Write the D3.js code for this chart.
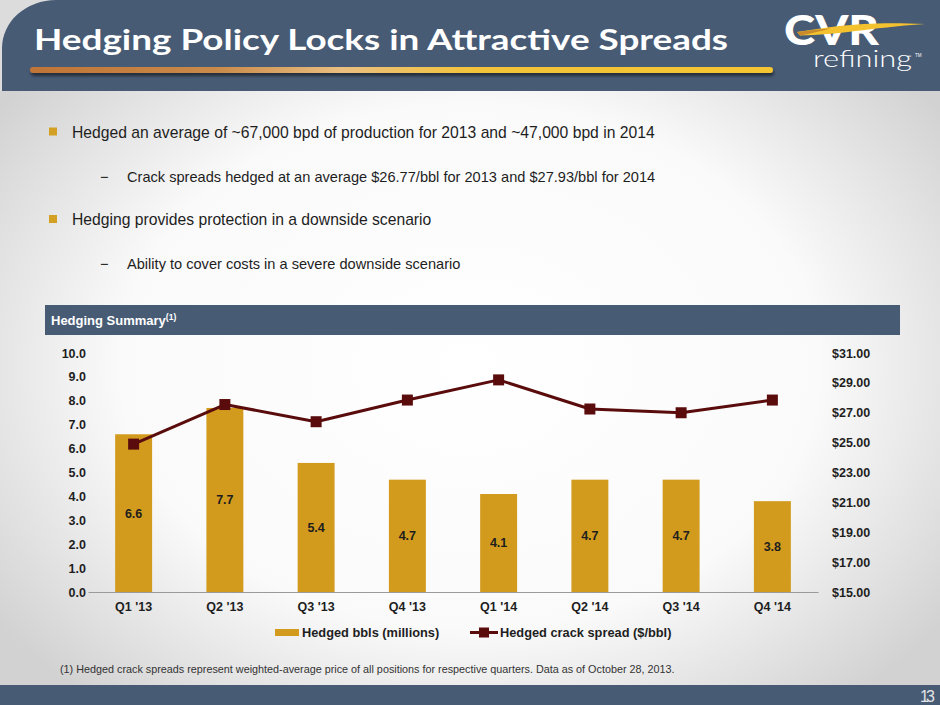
<!DOCTYPE html>
<html>
<head>
<meta charset="utf-8">
<script src="https://cdn.jsdelivr.net/npm/d3@7"></script>
<style>
  html, body { margin: 0; padding: 0; background: #fff; }
  svg { display: block; font-family: "Liberation Sans", Arial, sans-serif; }
</style>
</head>
<body>
<svg id="chart" width="940" height="705"></svg>
<script>
// ---- data ----
const categories = ["Q1 '13", "Q2 '13", "Q3 '13", "Q4 '13", "Q1 '14", "Q2 '14", "Q3 '14", "Q4 '14"];
const hedgedBbls = [6.6, 7.7, 5.4, 4.7, 4.1, 4.7, 4.7, 3.8];
const crackSpread = [24.9, 27.55, 26.4, 27.85, 29.2, 27.25, 27.0, 27.85];
const leftTicks = [0, 1, 2, 3, 4, 5, 6, 7, 8, 9, 10];
const rightTicks = [15, 17, 19, 21, 23, 25, 27, 29, 31];
const seriesNames = ["Hedged bbls (millions)", "Hedged crack spread ($/bbl)"];
const titleText = "Hedging Policy Locks in Attractive Spreads";
const bullets = [
  {level: 1, text: "Hedged an average of ~67,000 bpd of production for 2013 and ~47,000 bpd in 2014"},
  {level: 2, text: "Crack spreads hedged at an average $26.77/bbl for 2013 and $27.93/bbl for 2014"},
  {level: 1, text: "Hedging provides protection in a downside scenario"},
  {level: 2, text: "Ability to cover costs in a severe downside scenario"}
];
const footnote = "(1) Hedged crack spreads represent weighted-average price of all positions for respective quarters.  Data as of October 28, 2013.";

// ---- styles ----
const BAR = "#D39B1E", LINE = "#5A0C0C", SLATE = "#475B75", TXT = "#1e1e1e";

const svg = d3.select("#chart");
const defs = svg.append("defs");

const bg = defs.append("radialGradient").attr("id", "bg")
  .attr("cx", "50%").attr("cy", "52%").attr("r", "62%");
bg.append("stop").attr("offset", "0").attr("stop-color", "#ffffff");
bg.append("stop").attr("offset", "0.6").attr("stop-color", "#fafafa");
bg.append("stop").attr("offset", "1").attr("stop-color", "#d2d2d2");

const ul = defs.append("linearGradient").attr("id", "ul").attr("x1", "0").attr("x2", "1");
ul.append("stop").attr("offset", "0").attr("stop-color", "#bf7436");
ul.append("stop").attr("offset", "0.25").attr("stop-color", "#c98a4a");
ul.append("stop").attr("offset", "0.42").attr("stop-color", "#eabf80");
ul.append("stop").attr("offset", "0.6").attr("stop-color", "#f3c43a");
ul.append("stop").attr("offset", "1").attr("stop-color", "#f5c531");

const sh = defs.append("filter").attr("id", "sh").attr("x", "-5%").attr("y", "-50%").attr("width", "110%").attr("height", "250%");
sh.append("feGaussianBlur").attr("in", "SourceAlpha").attr("stdDeviation", 1.5);
sh.append("feOffset").attr("dx", 1).attr("dy", 3).attr("result", "o");
sh.append("feComponentTransfer").append("feFuncA").attr("type", "linear").attr("slope", 0.5);
const fm = sh.append("feMerge"); fm.append("feMergeNode"); fm.append("feMergeNode").attr("in", "SourceGraphic");

svg.append("rect").attr("width", 940).attr("height", 705).attr("fill", "url(#bg)");

// ---- header ----
svg.append("rect").attr("x", 0).attr("y", 0).attr("width", 940).attr("height", 91).attr("fill", SLATE);
svg.append("path").attr("d", "M0,0 H56 A54 48 0 0 0 2,48 V91 H0 Z").attr("fill", "#dcdcdc");
svg.append("rect").attr("x", 30).attr("y", 67).attr("width", 743).attr("height", 6).attr("rx", 3)
  .attr("fill", "url(#ul)").attr("filter", "url(#sh)");
svg.append("text").attr("x", 34).attr("y", 50)
  .attr("font-family", "Lato, 'Open Sans', sans-serif").attr("font-weight", 700).attr("font-size", 29)
  .attr("fill", "#ffffff").attr("textLength", 694).attr("lengthAdjust", "spacingAndGlyphs")
  .text(titleText);

// logo
const logo = svg.append("g");
logo.append("text").attr("x", 784).attr("y", 45).attr("font-family", "Lato, sans-serif").attr("font-weight", 900).attr("font-size", 41)
  .attr("fill", "#ffffff").attr("textLength", 95).attr("lengthAdjust", "spacingAndGlyphs").text("CVR");
logo.append("path").attr("d", "M797,32 C830,27 862,21 925,24 C868,28 838,35 800,35.5 Z").attr("fill", "#f3c22e");
logo.append("path").attr("d", "M797,32 C808,30.5 818,29.5 830,28.5 C819,31.5 809,34 800,35.5 Z").attr("fill", "#c98a2c");
logo.append("text").attr("x", 813).attr("y", 67).attr("font-family", "Lato, sans-serif").attr("font-weight", 300).attr("font-size", 23)
  .attr("fill", "#ffffff").attr("textLength", 99).attr("lengthAdjust", "spacingAndGlyphs").text("refining");
logo.append("text").attr("x", 915).attr("y", 57).attr("font-size", 4.5).attr("fill", "#ffffff").text("TM");

// ---- bullets ----
const by = [137.5, 181.5, 225, 269];
bullets.forEach((b, i) => {
  if (b.level === 1) {
    svg.append("rect").attr("x", 49).attr("y", by[i] - 10).attr("width", 8).attr("height", 8).attr("fill", "#D4A024");
    svg.append("text").attr("x", 72).attr("y", by[i]).attr("font-size", 15.7).attr("fill", TXT).text(b.text);
  } else {
    svg.append("text").attr("x", 100).attr("y", by[i]).attr("font-size", 14.6).attr("fill", TXT).text("\u2212");
    svg.append("text").attr("x", 127).attr("y", by[i]).attr("font-size", 14.6).attr("fill", TXT).text(b.text);
  }
});

// ---- summary band ----
svg.append("rect").attr("x", 45).attr("y", 305).attr("width", 855).attr("height", 30).attr("fill", SLATE);
const st = svg.append("text").attr("x", 51).attr("y", 325).attr("font-size", 13).attr("font-weight", 700).attr("fill", "#fff");
st.append("tspan").text("Hedging Summary");
st.append("tspan").attr("font-size", 8.5).attr("dy", -5).text("(1)");

// ---- chart ----
const x = d3.scaleBand().domain(categories).range([88, 818]).paddingInner(0.595).paddingOuter(0.2975);
const yL = d3.scaleLinear().domain([0, 10]).range([592, 353]);
const yR = d3.scaleLinear().domain([15, 31]).range([592, 353]);

const gL = svg.append("g").attr("transform", "translate(88,0)")
  .call(d3.axisLeft(yL).tickValues(leftTicks).tickSize(0).tickPadding(2).tickFormat(d3.format(".1f")));
const gR = svg.append("g").attr("transform", "translate(832,0)")
  .call(d3.axisRight(yR).tickValues(rightTicks).tickSize(0).tickPadding(0).tickFormat(d => "$" + d.toFixed(2)));
[gL, gR].forEach(g => {
  g.select(".domain").remove();
  g.selectAll("text").attr("font-size", 12.5).attr("font-weight", 700).attr("fill", TXT)
    .attr("font-family", "'Liberation Sans', Arial, sans-serif");
});

// bars
svg.append("g").selectAll("rect").data(hedgedBbls).join("rect")
  .attr("x", (d, i) => x(categories[i]))
  .attr("width", x.bandwidth())
  .attr("y", d => yL(d))
  .attr("height", d => yL(0) - yL(d))
  .attr("fill", BAR);

svg.append("g").selectAll("text").data(hedgedBbls).join("text")
  .attr("x", (d, i) => x(categories[i]) + x.bandwidth() / 2)
  .attr("y", d => (yL(d) + yL(0)) / 2)
  .attr("dy", "0.35em").attr("text-anchor", "middle")
  .attr("font-size", 12.5).attr("font-weight", 700).attr("fill", TXT)
  .text(d => d.toFixed(1));

// x axis
const gX = svg.append("g").attr("transform", "translate(0,592)")
  .call(d3.axisBottom(x).tickSize(0).tickSizeOuter(0).tickPadding(10));
gX.select(".domain").attr("stroke", "#9a9a9a").attr("stroke-width", 1.2);
gX.selectAll("text").attr("font-size", 12.5).attr("font-weight", 700).attr("fill", TXT)
  .attr("font-family", "'Liberation Sans', Arial, sans-serif");

// line
const cx = (i) => x(categories[i]) + x.bandwidth() / 2;
const lineGen = d3.line().x((d, i) => cx(i)).y(d => yR(d));
svg.append("path").datum(crackSpread).attr("d", lineGen)
  .attr("fill", "none").attr("stroke", LINE).attr("stroke-width", 3).attr("stroke-linejoin", "round");
svg.append("g").selectAll("rect").data(crackSpread).join("rect")
  .attr("x", (d, i) => cx(i) - 5.5).attr("y", d => yR(d) - 5.5)
  .attr("width", 11).attr("height", 11).attr("fill", LINE);

// legend
const lg = svg.append("g");
lg.append("rect").attr("x", 275).attr("y", 629).attr("width", 24).attr("height", 7).attr("fill", BAR);
lg.append("text").attr("x", 302).attr("y", 637).attr("font-size", 12.8).attr("font-weight", 700).attr("fill", TXT).text(seriesNames[0]);
lg.append("line").attr("x1", 470).attr("x2", 498).attr("y1", 632.5).attr("y2", 632.5).attr("stroke", LINE).attr("stroke-width", 3);
lg.append("rect").attr("x", 479).attr("y", 627.5).attr("width", 10).attr("height", 10).attr("fill", LINE);
lg.append("text").attr("x", 500).attr("y", 637).attr("font-size", 12.8).attr("font-weight", 700).attr("fill", TXT).text(seriesNames[1]);

// footnote
svg.append("text").attr("x", 60).attr("y", 673).attr("font-size", 10.8).attr("fill", "#333").text(footnote);

// footer
svg.append("rect").attr("x", 0).attr("y", 685).attr("width", 940).attr("height", 20).attr("fill", SLATE);
svg.append("text").attr("x", 935).attr("y", 702).attr("text-anchor", "end")
  .attr("font-size", 16).attr("fill", "#e4e4e4").attr("textLength", 15).text("13");
</script>
</body>
</html>
